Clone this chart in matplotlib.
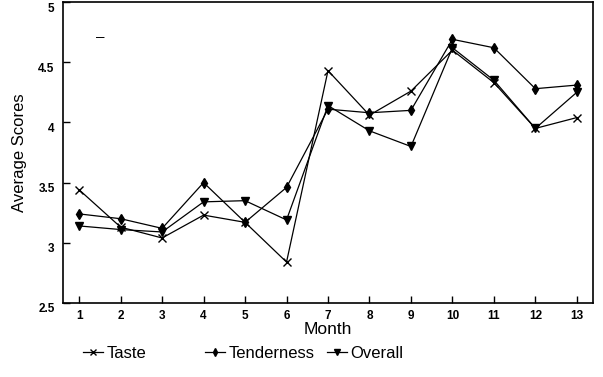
import matplotlib
matplotlib.use("Agg")
import matplotlib.pyplot as plt
from matplotlib.lines import Line2D
from matplotlib.transforms import ScaledTranslation

months = [1, 2, 3, 4, 5, 6, 7, 8, 9, 10, 11, 12, 13]
taste = [3.44, 3.13, 3.04, 3.23, 3.17, 2.84, 4.43, 4.06, 4.26, 4.60, 4.33, 3.95, 4.04]
tenderness = [3.24, 3.20, 3.12, 3.50, 3.17, 3.46, 4.11, 4.08, 4.10, 4.69, 4.62, 4.28, 4.31]
overall = [3.14, 3.11, 3.09, 3.34, 3.35, 3.19, 4.14, 3.93, 3.80, 4.62, 4.35, 3.95, 4.25]
yticks = [2.5, 3, 3.5, 4, 4.5, 5]
ytick_labels = ["2.5", "3", "3.5", "4", "4.5", "5"]
series_names = ['Taste', 'Tenderness', 'Overall']

plt.rcParams['font.family'] = ['Liberation Sans', 'DejaVu Sans']

fig = plt.figure(figsize=(6.03, 3.77), dpi=100)
ax = fig.add_axes([63/603, 1 - 303/377, 530/603, 301/377])

ax.plot(months, taste, color='black', lw=0.9, marker='x', ms=6, mew=1.0, label='Taste')
ax.plot(months, tenderness, color='black', lw=0.9, marker='d', ms=5, label='Tenderness')
ax.plot(months, overall, color='black', lw=0.9, marker='v', ms=5.5, label='Overall')

ax.set_xlim(0.61, 13.39)
ax.set_ylim(2.5, 5.0)
ax.set_xticks(months)
ax.set_xticklabels([str(m) for m in months], fontsize=8.5, fontweight='bold')
ax.set_yticks(yticks)
ax.set_yticklabels(ytick_labels, fontsize=8.5, fontweight='bold')
ax.tick_params(direction='in', length=5, width=1, pad=6)
ax.tick_params(axis='x', pad=5)
offset = ScaledTranslation(0, -5/100, fig.dpi_scale_trans)
for lab in ax.get_yticklabels():
    lab.set_transform(lab.get_transform() + offset)
for s in ax.spines.values():
    s.set_linewidth(1.2)

ax.set_xlabel('Month', fontsize=12.5, labelpad=0)
ax.set_ylabel('Average Scores', fontsize=12, labelpad=8)

ax.text(0.07, 0.885, '\u2013', transform=ax.transAxes, fontsize=11, ha='center', va='center')

handles = [Line2D([], [], color='black', lw=0.9, marker='x', ms=5),
           Line2D([], [], color='black', lw=0.9, marker='d', ms=4),
           Line2D([], [], color='black', lw=0.9, marker='v', ms=4.5)]
xpos = [83, 205, 327]
for h, name, xp in zip(handles, series_names, xpos):
    fig.legend([h], [name], loc='center left', bbox_to_anchor=(xp/603, 1 - 353/377),
               frameon=False, fontsize=12, handlelength=1.2, handletextpad=0.2,
               borderpad=0, borderaxespad=0)

fig.savefig('out.png', dpi=100)
